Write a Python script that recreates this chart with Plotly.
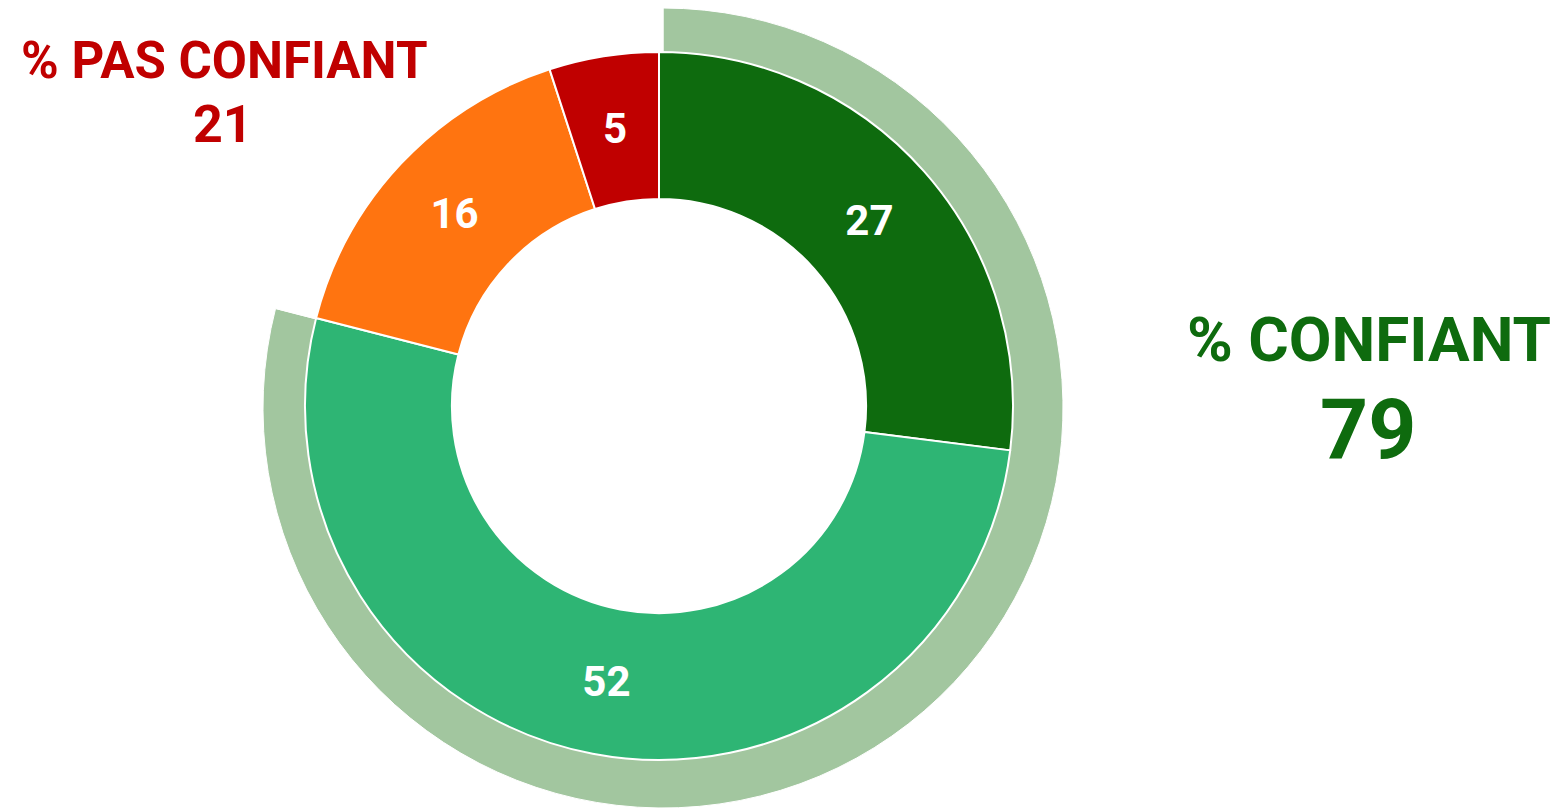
import math
import plotly.graph_objects as go

# confidence breakdown (percent)
labels = ["Très confiant", "Plutôt confiant", "Plutôt pas confiant", "Pas du tout confiant"]
values = [27, 52, 16, 5]
colors = ["#0E6B0E", "#2EB574", "#FF7410", "#C00000"]

# summary ring
ring_labels = ["% CONFIANT", "% PAS CONFIANT"]
ring_values = [79, 21]
ring_colors = ["#A2C69F", "rgba(0,0,0,0)"]

W, H = 1558, 809
OFF = 8  # page body margin
CX, CY, R, HOLE = 659, 406, 354, 0.585


def dom(cx, cy, r):
    # screen pixel centre/radius -> paper domain
    cx, cy = cx - OFF, cy - OFF
    return dict(
        x=[(cx - r) / W, (cx + r) / W],
        y=[max(0, (H - cy - r) / H), min(1, (H - cy + r) / H)],
    )


def px(x, y):
    return (x - OFF) / W, 1 - (y - OFF) / H


fig = go.Figure()

fig.add_trace(
    go.Pie(
        labels=ring_labels,
        values=ring_values,
        marker=dict(colors=ring_colors, line=dict(color="white", width=1)),
        hole=0.873,
        sort=False,
        direction="clockwise",
        textinfo="none",
        hoverinfo="skip",
        domain=dom(663, 408, 400),
        showlegend=False,
    )
)

# plotly pushes the label of the thin last slice outwards, so that one is an annotation
templates = ["%{value}"] * (len(values) - 1) + [""]
fig.add_trace(
    go.Pie(
        labels=labels,
        values=values,
        marker=dict(colors=colors, line=dict(color="white", width=2)),
        hole=HOLE,
        sort=False,
        direction="clockwise",
        texttemplate=templates,
        textposition="inside",
        insidetextorientation="horizontal",
        textfont=dict(family="Roboto", size=42, color="white", weight="bold"),
        hoverinfo="label+value",
        domain=dom(CX, CY, R),
        showlegend=False,
    )
)

total = sum(values)
mid = (total - values[-1] / 2) / total * 2 * math.pi
rm = R * (1 + HOLE) / 2
x, y = px(CX + rm * math.sin(mid), CY - rm * math.cos(mid))
fig.add_annotation(x=x, y=y, text=str(values[-1]),
                   font=dict(family="Roboto", size=42, color="white", weight="bold"))

red = "#C00000"
green = "#0E6B0E"
x, y = px(224, 61)
fig.add_annotation(x=x, y=y, text="% PAS CONFIANT",
                   font=dict(family="Roboto", size=51, color=red, weight="bold"))
x, y = px(223, 124)
fig.add_annotation(x=x, y=y, text=str(ring_values[1]),
                   font=dict(family="Roboto", size=52, color=red, weight="bold"))
x, y = px(1369, 340)
fig.add_annotation(x=x, y=y, text="% CONFIANT",
                   font=dict(family="Roboto", size=62, color=green, weight="bold"))
x, y = px(1368, 430)
fig.add_annotation(x=x, y=y, text=str(ring_values[0]),
                   font=dict(family="Roboto", size=84, color=green, weight="bold"))
fig.update_annotations(xref="paper", yref="paper", showarrow=False,
                       xanchor="center", yanchor="middle")

fig.update_layout(
    width=W,
    height=H,
    margin=dict(l=0, r=0, t=0, b=0),
    paper_bgcolor="white",
    plot_bgcolor="white",
)

fig.write_html("out.html")
